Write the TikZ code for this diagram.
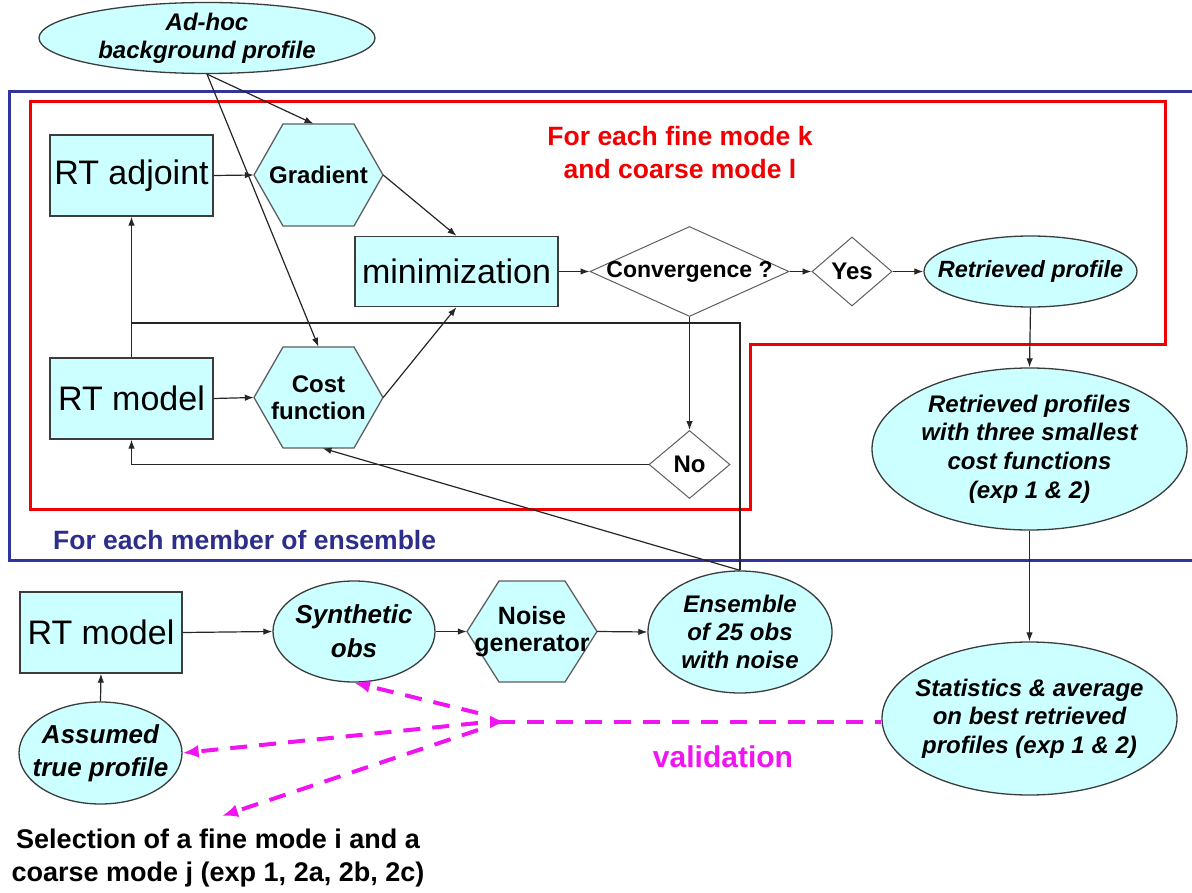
\documentclass[tikz,border=0pt]{standalone}
\usepackage{fontspec}
\setmainfont{Liberation Sans}
\usetikzlibrary{shapes.geometric,arrows.meta}
\definecolor{cyanf}{RGB}{204,255,255}
\definecolor{edge}{RGB}{60,60,60}
\definecolor{dedge}{RGB}{95,95,95}
\definecolor{redl}{RGB}{240,0,0}
\definecolor{bluel}{RGB}{51,51,160}
\definecolor{bluet}{RGB}{45,45,140}
\definecolor{magl}{RGB}{240,20,240}
\newcommand\fs[2]{\fontsize{#1}{#2}\selectfont}
\newcommand\hexat[5]{\draw[hexd,shift={(#1,#2)}] (-#3,0) -- (-#3+#5,-#4) -- (#3-#5,-#4) -- (#3,0) -- (#3-#5,#4) -- (-#3+#5,#4) -- cycle;}
\begin{document}
\begin{tikzpicture}[x=1pt,y=-1pt,
 arr/.style={-{Latex[length=9pt,width=6.5pt]}, line width=1.2pt, draw=black!85},
 con/.style={line width=1.2pt, draw=black!85},
 boxn/.style={rectangle, draw=edge, fill=cyanf, line width=1.3pt, inner sep=0pt, align=center, font=\fs{34}{40}},
 elln/.style={ellipse, draw=edge, fill=cyanf, line width=1.3pt, inner sep=0pt},
 dia/.style={diamond, draw=dedge, fill=white, line width=1pt, inner sep=0pt},
 hexd/.style={draw=dedge, fill=cyanf, line width=1.3pt, line join=miter},
 bi/.style={inner sep=0pt, align=center, font=\bfseries\itshape\fs{24}{28.5}},
 bo/.style={inner sep=0pt, align=center, font=\bfseries\fs{24}{27}},
 magd/.style={draw=magl, line width=4pt, dash pattern=on 17pt off 12pt},
 magarr/.style={magd, -{Latex[length=16pt,width=13pt]}},
]
\useasboundingbox (0,0) rectangle (1192,893);
\clip (0,0) rectangle (1192,893);
\fill[white] (0,0) rectangle (1192,893);

% frames
\draw[bluel, line width=3pt] (9,92) rectangle (1200,560);
\draw[redl, line width=3pt] (30,102) -- (1165,102) -- (1165,345) -- (750,345) -- (750,509) -- (30,509) -- cycle;
\node[font=\bfseries\fs{26.5}{33}, text=redl, align=center, inner sep=0pt] (redt) at (680,152.5) {For each fine mode k\\and coarse mode l};
\node[font=\bfseries\fs{26.5}{30}, text=bluet, anchor=west, inner sep=0pt] (bluetxt) at (53,540) {For each member of ensemble};

% top nodes
\node[elln, minimum width=336, minimum height=71, label={[bi,font=\bfseries\itshape\fs{24}{28}]center:{Ad-hoc\\background profile}}] (adhoc) at (207,38) {};
\node[boxn, minimum width=163, minimum height=81] (rtadj) at (131.5,175.5) {RT adjoint};
\node[boxn, minimum width=163, minimum height=81] (rtm) at (131.5,398.5) {RT model};
\node[boxn, minimum width=203, minimum height=70] (minim) at (456.5,271.5) {minimization};
\hexat{318.5}{175}{64.5}{51}{29}
\node[bo, minimum width=129, minimum height=102] (grad) at (318.5,175) {Gradient};
\hexat{318.5}{397.5}{64.5}{50.5}{29}
\node[bo, minimum width=129, minimum height=101] (cost) at (318.5,397.5) {Cost\\function};
\node[dia, minimum width=199, minimum height=90, label={[bo,font=\bfseries\fs{23}{27}]center:{Convergence ?}}] (conv) at (689.5,271.5) {};
\node[dia, minimum width=80, minimum height=69, label={[bo]center:Yes}] (yes) at (852,271.5) {};
\node[elln, minimum width=213, minimum height=71, label={[bi,font=\bfseries\itshape\fs{23.5}{28}]center:{Retrieved profile}}] (ret) at (1030.5,271.5) {};
\node[dia, minimum width=81, minimum height=68, label={[bo]center:No}] (no) at (689.5,464.5) {};
\node[elln, minimum width=315, minimum height=162, label={[bi,font=\bfseries\itshape\fs{24}{28.7}]center:{Retrieved profiles\\with three smallest\\cost functions\\(exp 1 \& 2)}}] (rets) at (1029.5,449) {};
\node[elln, minimum width=295, minimum height=153, label={[bi,font=\bfseries\itshape\fs{24}{28.5}]center:{Statistics \& average\\on best retrieved\\profiles (exp 1 \& 2)}}] (stat) at (1029.5,718.5) {};

% bottom nodes
\node[boxn, minimum width=162, minimum height=81] (rtm2) at (101,632.5) {RT model};
\node[elln, minimum width=162, minimum height=101, label={[bi,font=\bfseries\itshape\fs{26}{34}]center:{Synthetic\\obs}}] (syn) at (354,631.5) {};
\hexat{532}{631.5}{65}{50.5}{32}
\node[bo, font=\bfseries\fs{25}{27}, minimum width=130, minimum height=101] (noise) at (532,631.5) {Noise\\generator};
\node[elln, minimum width=184, minimum height=122, label={[bi,font=\bfseries\itshape\fs{24}{28}]center:{Ensemble\\of 25 obs\\with noise}}] (ens) at (740,632) {};
\node[elln, minimum width=163, minimum height=102, label={[bi,font=\bfseries\itshape\fs{26}{33}]center:{Assumed\\true profile}}] (ass) at (100.5,753) {};
\node[bo, font=\bfseries\fs{27}{33}] (sel) at (218,858.5) {Selection of a fine mode i and a\\coarse mode j (exp 1, 2a, 2b, 2c)};
\node[font=\bfseries\fs{30}{34}, text=magl, inner sep=0pt] (valid) at (723,757) {validation};

% coordinates
\coordinate (jn) at (131.5,323);
\coordinate (h0) at (490,722);
\coordinate (h1) at (478,713);
\coordinate (h2) at (478,723);
\coordinate (h3) at (478,730);
\coordinate (selend) at (222,816);

% connectors
\draw[arr] (adhoc.south) -- ([xshift=-5pt]grad.north);
\draw[arr] (adhoc.south) -- (cost.north);
\draw[arr] (rtadj.east) -- (grad.west);
\draw[arr] (grad.east) -- (minim.north);
\draw[arr] (cost.east) -- (minim.south);
\draw[arr] (rtm.east) -- (cost.west);
\draw[arr] (minim.east) -- (conv.west);
\draw[arr] (conv.east) -- (yes.west);
\draw[arr] (yes.east) -- (ret.west);
\draw[arr] (ret.south) -- (rets.north);
\draw[arr] (rets.south) -- (stat.north);
\draw[arr] (conv.south) -- (no.north);
\draw[arr] (no.west) -| (rtm.south);
\draw[arr] (rtm.north) -- (rtadj.south);
\draw[con] (ens.north) |- (jn);
\draw[arr] (ens.north) -- ([xshift=4pt]cost.south);
\draw[arr] (rtm2.east) -- (syn.west);
\draw[arr] (syn.east) -- (noise.west);
\draw[arr] (noise.east) -- (ens.west);
\draw[arr] (ass.north) -- (rtm2.south);

% validation
\draw[magarr] (h1) -- (syn.south);
\draw[magarr] (h2) -- (ass.east);
\draw[magarr] (h3) -- (selend);
\draw[magd, {Latex[length=16pt,width=13pt,reversed]}-] (h0) -- (h0 -| stat.west);
\end{tikzpicture}
\end{document}
